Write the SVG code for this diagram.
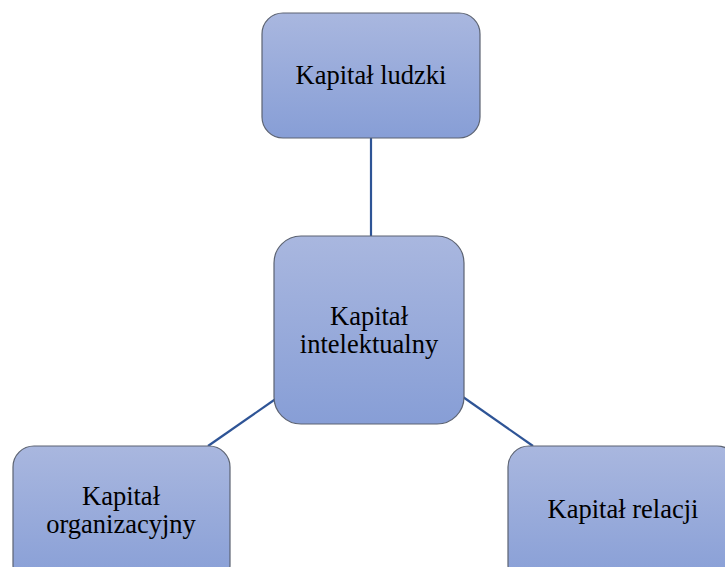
<svg xmlns="http://www.w3.org/2000/svg" width="725" height="567" viewBox="0 0 725 567">
  <defs>
    <linearGradient id="boxFill" x1="0" y1="0" x2="0" y2="1">
      <stop offset="0" stop-color="#a9b7df"/>
      <stop offset="1" stop-color="#879ed6"/>
    </linearGradient>
    <style>
      .box { fill: url(#boxFill); stroke: #5c6372; stroke-width: 1.2; }
      .label { font-family: "Liberation Serif", "Times New Roman", serif; font-size: 26.5px; fill: #000; text-anchor: middle; }
      .link { stroke: #2e5496; stroke-width: 2.2; fill: none; }
    </style>
  </defs>
  <rect width="725" height="567" fill="#ffffff"/>

  <g id="connectors">
    <line class="link" x1="371" y1="138" x2="371" y2="236"/>
    <line class="link" x1="277" y1="398" x2="208" y2="446"/>
    <line class="link" x1="463" y1="397" x2="533" y2="446"/>
  </g>

  <g id="node-ludzki">
    <rect class="box" x="262" y="13" width="218" height="125" rx="21"/>
    <text class="label" x="371" y="84">Kapitał ludzki</text>
  </g>

  <g id="node-intelektualny">
    <rect class="box" x="274" y="236" width="190" height="188" rx="27"/>
    <text class="label" x="369" y="325">Kapitał</text>
    <text class="label" x="369" y="353">intelektualny</text>
  </g>

  <g id="node-organizacyjny">
    <rect class="box" x="13" y="446" width="217" height="140" rx="21"/>
    <text class="label" x="121" y="505">Kapitał</text>
    <text class="label" x="121" y="533">organizacyjny</text>
  </g>

  <g id="node-relacji">
    <rect class="box" x="508" y="446" width="230" height="140" rx="21"/>
    <text class="label" x="623" y="518">Kapitał relacji</text>
  </g>
</svg>
